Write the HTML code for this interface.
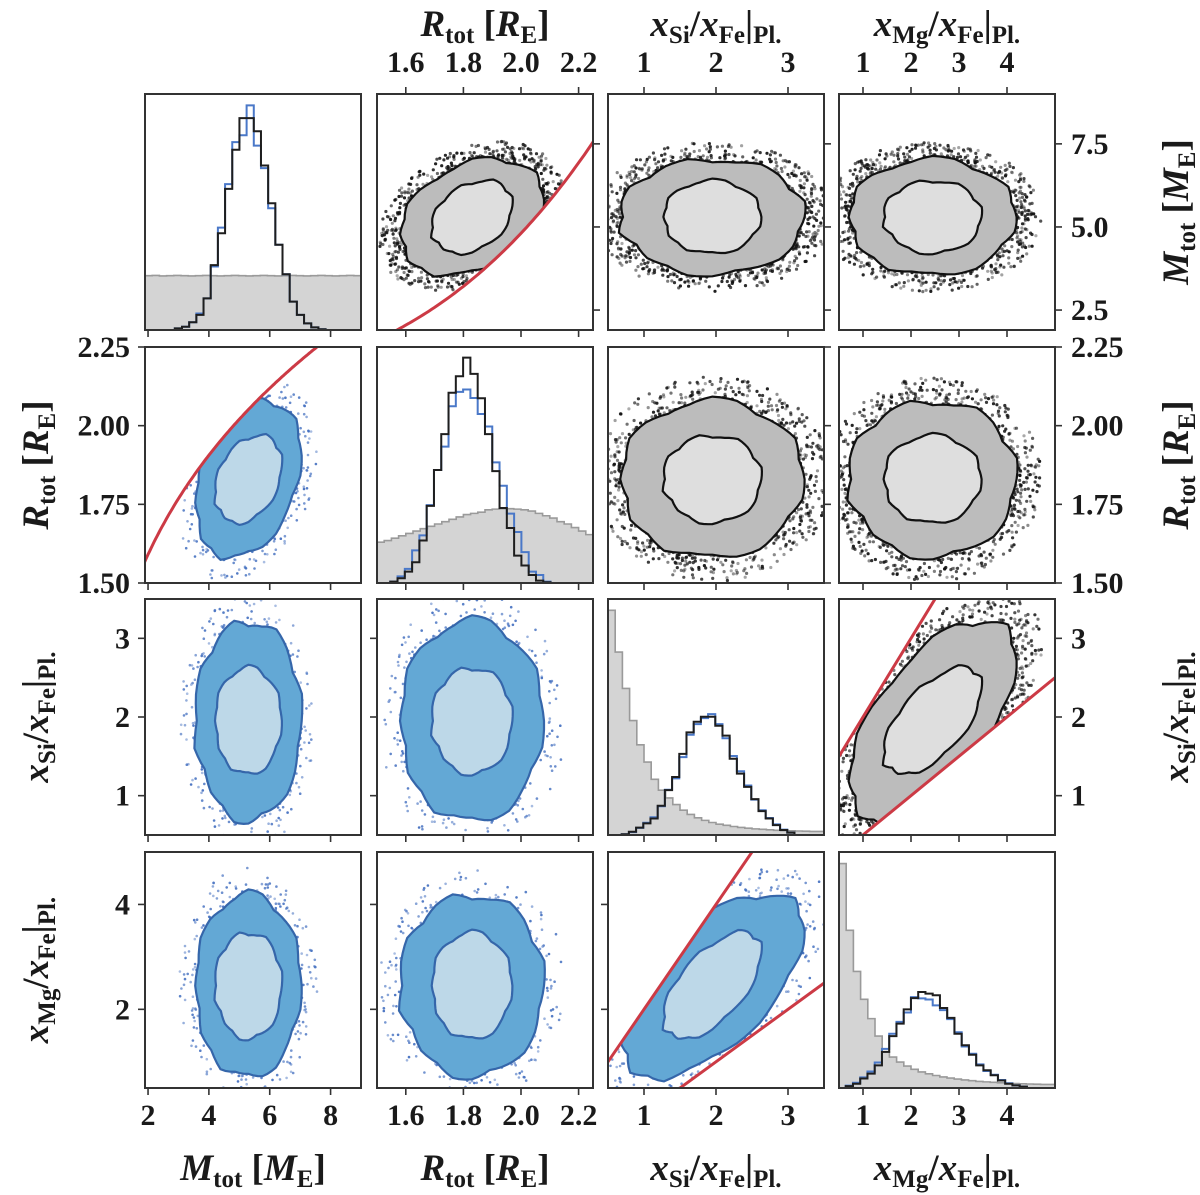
<!DOCTYPE html>
<html><head><meta charset="utf-8">
<style>
html,body{margin:0;padding:0;background:#fff;}
svg{display:block;}
text{font-family:"Liberation Serif","DejaVu Serif",serif;font-weight:bold;fill:#1a1a1a;}
</style></head>
<body>
<svg id="fig" width="1200" height="1195" viewBox="0 0 1200 1195" xmlns="http://www.w3.org/2000/svg">
<defs id="defs"></defs>
<g id="layer"></g>
</svg>
<script>
// ---------- data ----------
const varNames = ["M","R","Si","Mg"];
const varLo = [1.9, 1.5, 0.5, 0.5];
const varHi = [9.0, 2.25, 3.5, 5.0];
const xTickVals = [[2,4,6,8],[1.6,1.8,2.0,2.2],[1,2,3],[1,2,3,4]];
const xTickLabels = [["2","4","6","8"],["1.6","1.8","2.0","2.2"],["1","2","3"],["1","2","3","4"]];
const yTickVals = [[2.5,5.0,7.5],[1.5,1.75,2.0,2.25],[1,2,3],[2,4]];
const yTickLabels = [["2.5","5.0","7.5"],["1.50","1.75","2.00","2.25"],["1","2","3"],["2","4"]];

// posterior histograms (fraction of panel height)
const histStart = [2.88, 1.546, 0.69, 0.64];
const histWidth = [0.236, 0.0253, 0.1, 0.151];
const histBlack0 = [0.007,0.014,0.033,0.064,0.134,0.275,0.410,0.598,0.764,0.898,0.898,0.842,0.697,0.537,0.361,0.236,0.120,0.064,0.028,0.011,0.003];
const histBlue0  = [0.007,0.014,0.033,0.070,0.134,0.269,0.434,0.618,0.796,0.825,0.952,0.781,0.686,0.516,0.361,0.236,0.120,0.064,0.028,0.011,0.003];
const histBlack1 = [0.006,0.020,0.048,0.088,0.180,0.327,0.479,0.631,0.806,0.876,0.955,0.886,0.783,0.631,0.474,0.318,0.233,0.116,0.074,0.034,0.010,0.003];
const histBlue1  = [0.006,0.028,0.060,0.138,0.202,0.330,0.479,0.578,0.749,0.810,0.820,0.784,0.716,0.663,0.511,0.412,0.294,0.216,0.131,0.048,0.034,0.006];
const histBlack2 = [0.003,0.014,0.031,0.049,0.070,0.124,0.190,0.246,0.344,0.435,0.480,0.501,0.501,0.463,0.421,0.323,0.260,0.204,0.152,0.101,0.070,0.042,0.021,0.010];
const histBlue2  = [0.003,0.012,0.030,0.052,0.075,0.122,0.192,0.240,0.330,0.425,0.470,0.495,0.512,0.470,0.410,0.335,0.270,0.210,0.150,0.105,0.072,0.045,0.023,0.010];
const histBlack3 = [0.008,0.018,0.040,0.061,0.096,0.153,0.220,0.273,0.333,0.381,0.407,0.400,0.393,0.339,0.297,0.230,0.181,0.141,0.096,0.075,0.054,0.032,0.018,0.011,0.006];
const histBlue3  = [0.010,0.022,0.045,0.070,0.108,0.166,0.230,0.280,0.320,0.385,0.380,0.375,0.350,0.330,0.292,0.236,0.176,0.145,0.100,0.072,0.056,0.034,0.020,0.011,0.006];
// prior histograms (start at axis low, fraction of panel height)
const priorWidth = [0.2367, 0.025, 0.1, 0.15];
const prior0 = [0.23,0.231,0.229,0.23,0.231,0.23,0.229,0.23,0.231,0.23,0.229,0.23,0.231,0.23,0.229,0.23,0.231,0.23,0.229,0.23,0.231,0.23,0.229,0.23,0.231,0.23,0.229,0.23,0.231,0.23];
const prior1 = [0.173,0.18,0.19,0.20,0.21,0.22,0.23,0.24,0.25,0.26,0.27,0.28,0.29,0.295,0.30,0.31,0.313,0.315,0.315,0.313,0.31,0.305,0.295,0.285,0.275,0.26,0.25,0.235,0.22,0.205];
const prior2 = [0.952,0.775,0.621,0.485,0.382,0.309,0.236,0.190,0.157,0.129,0.105,0.087,0.073,0.062,0.053,0.046,0.041,0.036,0.032,0.029,0.026,0.024,0.022,0.020,0.019,0.018,0.017,0.016,0.015,0.015];
const prior3 = [0.951,0.668,0.494,0.376,0.294,0.220,0.153,0.131,0.110,0.093,0.079,0.068,0.060,0.053,0.047,0.042,0.038,0.034,0.031,0.028,0.026,0.024,0.022,0.020,0.019,0.018,0.017,0.016,0.015,0.015];

// 2D blob parameters per variable: centre, outer-contour half-width, inner-contour half-width
const blobCenter = [5.3, 1.83, 1.95, 2.45];
const blobOuter = [1.75, 0.25, 1.28, 1.75];
const blobInner = [1.1, 0.14, 0.68, 1.02];
// correlations: M-R, Si-Mg
const corrMR = 0.3;
const corrSiMg = 0.6;
// contour roughness multipliers
const jagA = [1.00,0.97,1.04,0.99,0.95,1.03,1.05,0.98,0.96,1.02,1.04,0.97,1.00,0.95,1.03,0.99,1.05,0.97,0.96,1.02,1.03,0.98,0.95,1.01];
const jagB = [1.00,1.04,0.96,1.02,1.05,0.97,0.94,1.03,1.01,0.96,1.04,1.02,0.97,1.05,0.95,1.00,0.97,1.04,1.02,0.95,0.99,1.03,1.01,0.96];

// ---------- layout ----------
const X0 = [145,377,608,839], Y0 = [94,347,599,852], W = 216, H = 236;
const NS = "http://www.w3.org/2000/svg";
const layer = document.getElementById("layer");
const defs = document.getElementById("defs");
function sx(c,v){return X0[c] + (v-varLo[c])/(varHi[c]-varLo[c])*W;}
function sy(r,v){return Y0[r] + H - (v-varLo[r])/(varHi[r]-varLo[r])*H;}
function mk(tag, attrs, parent){const e=document.createElementNS(NS,tag);for(const k in attrs)e.setAttribute(k,attrs[k]);(parent||layer).appendChild(e);return e;}
let seed = 12345;
function rnd(){seed|=0;seed=seed+0x6D2B79F5|0;let t=Math.imul(seed^seed>>>15,1|seed);t=t+Math.imul(t^t>>>7,61|t)^t;return((t^t>>>14)>>>0)/4294967296;}

function fM(R){return 1.95*Math.pow(R/1.58,3.83);}
function gR(M){return 1.58*Math.pow(M/1.95,1/3.83);}

function corrOf(a,b){const s=[a,b].sort().join("");if(s==="MR")return corrMR;if(s==="MgSi")return corrSiMg;return 0;}

function label(parts, x, y, size, rot, anchor, name){
  const t = mk("text",{x:x,y:y,"font-size":size,"text-anchor":anchor||"middle"});
  
  
  if(rot) t.setAttribute("transform","rotate("+rot+" "+x+" "+y+")");
  let sub=false;
  parts.forEach(p=>{
    const ts=document.createElementNS(NS,"tspan");
    if(p[1]==='s'){ts.setAttribute("font-size",Math.round(size*0.68));ts.setAttribute("font-style","normal");if(!sub){ts.setAttribute("dy",Math.round(size*0.2));sub=true;}}
    else{if(sub){ts.setAttribute("dy",-Math.round(size*0.2));sub=false;}if(p[1]==='i')ts.setAttribute("font-style","italic");}
    ts.textContent=p[0];t.appendChild(ts);
  });
  return t;
}
const titles = {
  M:[["M","i"],["tot","s"],[" [","n"],["M","i"],["E","s"],["]","n"]],
  R:[["R","i"],["tot","s"],[" [","n"],["R","i"],["E","s"],["]","n"]],
  Si:[["x","i"],["Si","s"],["/","n"],["x","i"],["Fe","s"],["|","n"],["Pl.","s"]],
  Mg:[["x","i"],["Mg","s"],["/","n"],["x","i"],["Fe","s"],["|","n"],["Pl.","s"]]
};

// ---------- panels ----------
for(let r=0;r<4;r++){
  for(let c=0;c<4;c++){
    const g = mk("g",{});
    
    
    const cp = mk("clipPath",{id:"cp"+r+c},defs);
    mk("rect",{x:X0[c],y:Y0[r],width:W,height:H},cp);
    const inner = mk("g",{"clip-path":"url(#cp"+r+c+")"},g);
    if(r===c){
      const pr=[prior0,prior1,prior2,prior3][c], pw=priorWidth[c];
      const by=Y0[r]+H;
      let d="M"+sx(c,varLo[c])+","+by;
      pr.forEach((v,i)=>{const yy=by-v*H;d+=" V"+yy+" H"+sx(c,varLo[c]+(i+1)*pw);});
      d+=" V"+by+" Z";
      const p=mk("path",{d:d,fill:"#d4d4d4",stroke:"#9a9a9a","stroke-width":1.6},inner);
      
      
      const drawStep=(arr,col,wid,nm)=>{
        let d2="M"+sx(c,histStart[c])+","+by;
        arr.forEach((v,i)=>{d2+=" V"+(by-v*H)+" H"+sx(c,histStart[c]+(i+1)*histWidth[c]);});
        d2+=" V"+by;
        const s=mk("path",{d:d2,fill:"none",stroke:col,"stroke-width":wid},inner);
        
        
      };
      drawStep([histBlue0,histBlue1,histBlue2,histBlue3][c],"#4a78c8",2,"posterior-histogram-blue");
      drawStep([histBlack0,histBlack1,histBlack2,histBlack3][c],"#1e1e1e",2,"posterior-histogram-black");
    } else {
      const upper = c>r;
      const vx=varNames[c], vy=varNames[r];
      const rho=corrOf(vx,vy);
      let cons=null, redLines=[];
      const pts=(arr)=>arr.map(p=>sx(c,p[0]).toFixed(1)+","+sy(r,p[1]).toFixed(1)).join(" ");
      if((vx==="R"&&vy==="M")){
        const a=[];for(let R=1.3;R<=2.45;R+=0.01)a.push([R,fM(R)]);
        redLines.push(a); cons=a.concat([[2.45,30],[1.3,30]]);
      } else if(vx==="M"&&vy==="R"){
        const a=[];for(let M=0.5;M<=11;M+=0.05)a.push([M,gR(M)]);
        redLines.push(a); cons=a.concat([[11,0],[0.5,0]]);
      } else if(vx==="Mg"&&vy==="Si"){
        const lo=[[0,0],[6,3]], hi=[[0,1],[6,7]];
        redLines.push(lo,hi); cons=lo.concat([[6,7],[0,1]]);
      } else if(vx==="Si"&&vy==="Mg"){
        const lo=[[0,-1],[6,5]], hi=[[0,0],[6,12]];
        redLines.push(lo,hi); cons=lo.concat([[6,12],[0,0]]);
      }
      let body=inner;
      if(cons){
        const cc=mk("clipPath",{id:"cc"+r+c},defs);
        mk("polygon",{points:pts(cons)},cc);
        body=mk("g",{"clip-path":"url(#cc"+r+c+")"},inner);
      }
      const cx=blobCenter[c], cy=blobCenter[r];
      const ell=(ax,ay,jag)=>{
        const a=[];const n=jag.length*3;
        for(let k=0;k<n;k++){const t=k/n*2*Math.PI;const j=jag[Math.floor(k/3)]*(1-(k%3)/3)+jag[(Math.floor(k/3)+1)%jag.length]*((k%3)/3);
          a.push([cx+ax*j*Math.cos(t), cy+ay*j*(rho*Math.cos(t)+Math.sqrt(1-rho*rho)*Math.sin(t))]);}
        return a;
      };
      const nd = upper?1600:450;
      const dots=mk("g",{},body);
      
      
      for(let k=0;k<nd;k++){
        const t=rnd()*2*Math.PI; const rr=0.85+0.45*Math.pow(rnd(),upper?2.6:2.0);
        const px=cx+blobOuter[c]*rr*Math.cos(t), py=cy+blobOuter[r]*rr*(rho*Math.cos(t)+Math.sqrt(1-rho*rho)*Math.sin(t));
        mk("circle",{cx:sx(c,px).toFixed(1),cy:sy(r,py).toFixed(1),r:upper?1.6:1.3,fill:upper?"#111":"#4470c0","fill-opacity":(upper?0.35+0.6*rnd():0.45+0.5*rnd()).toFixed(2)},dots);
      }
      const outer=ell(blobOuter[c],blobOuter[r],(r+c)%2?jagA:jagB);
      const inn=ell(blobInner[c],blobInner[r],(r+c)%2?jagB:jagA);
      const o=mk("polygon",{points:pts(outer),fill:upper?"#bcbcbc":"#63a8d5",stroke:upper?"#111":"#3566aa","stroke-width":2.2},body);
      
      
      const i2=mk("polygon",{points:pts(inn),fill:upper?"#dedede":"#bdd8e8",stroke:upper?"#111":"#3566aa","stroke-width":2.2},body);
      
      
      redLines.forEach(l=>{
        const pl=mk("polyline",{points:pts(l),fill:"none",stroke:"#cc3a45","stroke-width":3},inner);
        
        
      });
    }
    const fr=mk("rect",{x:X0[c],y:Y0[r],width:W,height:H,fill:"none",stroke:"#333","stroke-width":2},g);
    
    
    xTickVals[c].forEach(v=>{const x=sx(c,v);mk("line",{x1:x,x2:x,y1:Y0[r]+H,y2:Y0[r]+H+7,stroke:"#333","stroke-width":1.6},g);
      if(r===0&&c>0)mk("line",{x1:x,x2:x,y1:Y0[r],y2:Y0[r]-7,stroke:"#333","stroke-width":1.6},g);});
    if(c<r||c===0&&r>0) yTickVals[r].forEach(v=>{const y=sy(r,v);mk("line",{x1:X0[c],x2:X0[c]-7,y1:y,y2:y,stroke:"#333","stroke-width":1.6},g);});
    if(c>r) yTickVals[r].forEach(v=>{const y=sy(r,v);mk("line",{x1:X0[c]+W,x2:X0[c]+W+7,y1:y,y2:y,stroke:"#333","stroke-width":1.6},g);});
  }
}

// ---------- tick labels ----------
const TS=30;
for(let c=0;c<4;c++){
  xTickVals[c].forEach((v,i)=>{
    const t=mk("text",{x:sx(c,v),y:1125,"font-size":TS,"text-anchor":"middle"});t.textContent=xTickLabels[c][i];
    
    
    if(c>0){const t2=mk("text",{x:sx(c,v),y:72,"font-size":TS,"text-anchor":"middle"});t2.textContent=xTickLabels[c][i];
      
      }
  });
  label(titles[varNames[c]], X0[c]+W/2, 1180, 37, 0, "middle", "x-axis-title-"+varNames[c]);
  if(c>0) label(titles[varNames[c]], X0[c]+W/2, 36, 37, 0, "middle", "top-axis-title-"+varNames[c]);
}
for(let r=0;r<4;r++){
  yTickVals[r].forEach((v,i)=>{
    if(r>0){const t=mk("text",{x:130,y:sy(r,v)+10,"font-size":TS,"text-anchor":"end"});t.textContent=yTickLabels[r][i];
      
      }
    if(r<3){const t2=mk("text",{x:1071,y:sy(r,v)+10,"font-size":TS,"text-anchor":"start"});t2.textContent=yTickLabels[r][i];
      
      }
  });
  if(r>0) label(titles[varNames[r]], 48, Y0[r]+H/2, 37, -90, "middle", "y-axis-title-"+varNames[r]);
  if(r<3) label(titles[varNames[r]], 1188, Y0[r]+H/2, 37, -90, "middle", "right-axis-title-"+varNames[r]);
}
</script>
</body></html>
